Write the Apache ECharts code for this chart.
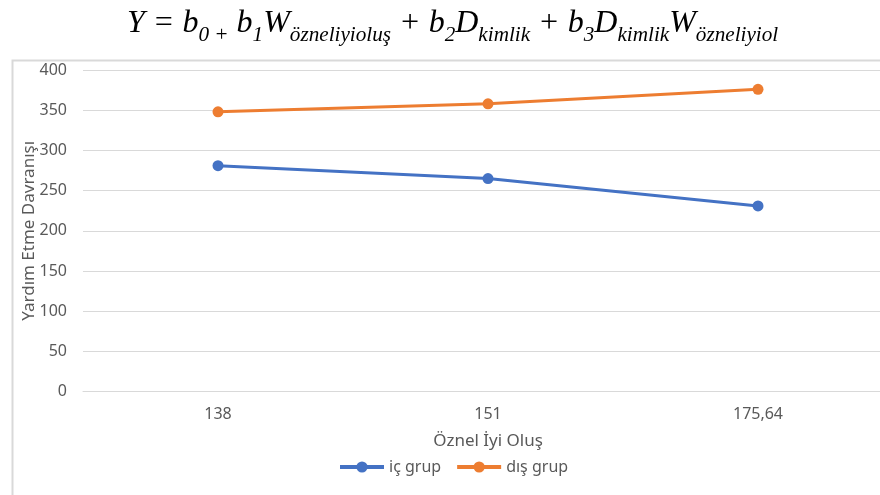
<!DOCTYPE html>
<html><head><meta charset="utf-8">
<script src="https://cdn.jsdelivr.net/npm/echarts@6/dist/echarts.min.js"></script>
<style>html,body{margin:0;padding:0;background:#fff}#c{width:880px;height:495px}</style>
</head><body><div id="c"></div>
<script>
const categories = ['138', '151', '175,64'];
const icGrup = [281, 265, 231];
const disGrup = [348, 358, 376];
const seriesNames = ['iç grup', 'dış grup'];
const yTitle = 'Yardım Etme Davranışı';
const xTitle = 'Öznel İyi Oluş';

const chart = echarts.init(document.getElementById('c'));
const axisFont = 'Noto Sans';
chart.setOption({
  backgroundColor: '#fff',
  animation: false,
  title: {
    left: 122,
    top: 3,
    text: '{m|Y = b}{s|0 +}{m| b}{s|1}{m|W}{s|özneliyioluş}{m| + b}{s|2}{m|D}{s|kimlik}{m| + b}{s|3}{m|D}{s|kimlik}{m|W}{s|özneliyiol}',
    textStyle: {
      fontWeight: 'normal',
      rich: {
        m: { fontFamily: 'Liberation Serif', fontStyle: 'italic', fontWeight: 'normal', fontSize: 32, color: '#000', lineHeight: 38, verticalAlign: 'top' },
        s: { fontFamily: 'Liberation Serif', fontStyle: 'italic', fontWeight: 'normal', fontSize: 21.2, color: '#000', lineHeight: 30, verticalAlign: 'bottom' }
      }
    }
  },
  graphic: [{
    type: 'rect', left: 10, top: 58, z: -1,
    shape: { width: 900, height: 500 },
    style: { fill: 'none', stroke: '#d9d9d9', lineWidth: 2 }
  }],
  grid: { left: 83, top: 70, width: 810, height: 321.7, outerBoundsMode: 'none', containLabel: false },
  legend: {
    top: 454, left: 333,
    itemWidth: 44, itemHeight: 14, itemGap: 14,
    lineStyle: { width: 4 },
    textStyle: { fontFamily: axisFont, fontSize: 16, color: '#595959' },
    data: seriesNames
  },
  xAxis: {
    type: 'category', data: categories, boundaryGap: true,
    axisLine: { lineStyle: { color: '#d9d9d9' } },
    axisTick: { show: false },
    axisLabel: { margin: 15, fontFamily: axisFont, fontSize: 16, color: '#595959' },
    name: xTitle, nameLocation: 'middle', nameGap: 41,
    nameTextStyle: { fontFamily: axisFont, fontSize: 17, color: '#595959' }
  },
  yAxis: {
    type: 'value', min: 0, max: 400, interval: 50,
    axisLine: { show: false }, axisTick: { show: false },
    splitLine: { lineStyle: { color: '#d9d9d9' } },
    axisLabel: { margin: 16, fontFamily: axisFont, fontSize: 16, color: '#595959' },
    name: yTitle, nameLocation: 'middle', nameGap: 45, nameRotate: 90, nameMoveOverlap: false,
    nameTextStyle: { fontFamily: axisFont, fontSize: 17, color: '#595959' }
  },
  series: [
    { name: seriesNames[0], type: 'line', data: icGrup, color: '#4472C4',
      lineStyle: { width: 3 }, symbol: 'circle', symbolSize: 11, itemStyle: { color: '#4472C4' } },
    { name: seriesNames[1], type: 'line', data: disGrup, color: '#ED7D31',
      lineStyle: { width: 3 }, symbol: 'circle', symbolSize: 11, itemStyle: { color: '#ED7D31' } }
  ]
});
</script></body></html>
